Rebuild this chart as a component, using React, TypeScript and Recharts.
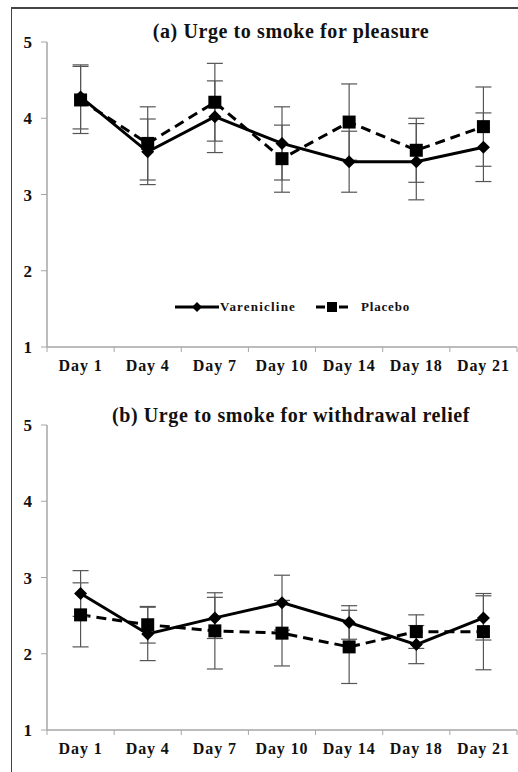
import React from "react";
import { LineChart, Line, XAxis, YAxis, ErrorBar } from "recharts";

const days = ["Day 1", "Day 4", "Day 7", "Day 10", "Day 14", "Day 18", "Day 21"];
const yTicks = [1, 2, 3, 4, 5];

const vareA = [4.28, 3.56, 4.02, 3.67, 3.43, 3.43, 3.62];
const vareAErr = [0.42, 0.43, 0.47, 0.48, 0.4, 0.5, 0.45];
const placA = [4.24, 3.67, 4.21, 3.47, 3.95, 3.58, 3.89];
const placAErr = [0.44, 0.48, 0.51, 0.44, 0.5, 0.42, 0.52];

const vareB = [2.79, 2.26, 2.47, 2.67, 2.41, 2.12, 2.47];
const vareBErr = [0.3, 0.35, 0.27, 0.36, 0.22, 0.25, 0.29];
const placB = [2.51, 2.38, 2.3, 2.27, 2.09, 2.29, 2.29];
const placBErr = [0.42, 0.24, 0.5, 0.43, 0.48, 0.22, 0.5];

const titleA = "(a) Urge to smoke for pleasure";
const titleB = "(b) Urge to smoke for withdrawal relief";
const legendNames = ["Varenicline", "Placebo"];

const FONT = "'Liberation Serif', 'Times New Roman', serif";
const AXIS = "#a6a6a6";
const ERR = "#555555";

function buildRows(v: number[], ve: number[], p: number[], pe: number[]) {
  return days.map((d, i) => ({ x: i + 0.5, day: d, v: v[i], ve: ve[i], p: p[i], pe: pe[i] }));
}

const xTicks: number[] = [];
for (let i = 0; i <= days.length * 2; i++) xTicks.push(i / 2);

const XTick = (props: any) => {
  const { x, y, payload } = props;
  const val = payload.value as number;
  if (Number.isInteger(val)) {
    return <line x1={x} x2={x} y1={y - 8} y2={y - 3} stroke={AXIS} strokeWidth={1} />;
  }
  const label = days[Math.floor(val)];
  return (
    <text x={x} y={y + 16} textAnchor="middle" fontFamily={FONT} fontWeight="bold" fontSize={16} letterSpacing={0.9} fill="#111">
      {label}
    </text>
  );
};

const Diamond = (props: any) => {
  const { cx, cy } = props;
  if (cx == null || cy == null) return null;
  const r = 6.5;
  return <path d={`M${cx},${cy - r}L${cx + r},${cy}L${cx},${cy + r}L${cx - r},${cy}Z`} fill="#000" />;
};

const Square = (props: any) => {
  const { cx, cy } = props;
  if (cx == null || cy == null) return null;
  const s = 6.5;
  return <rect x={cx - s} y={cy - s} width={s * 2} height={s * 2} fill="#000" />;
};

const LegendBox = () => (
  <div style={{ position: "absolute", left: 175, top: 299, display: "flex", alignItems: "center", fontFamily: FONT, fontWeight: "bold", fontSize: 13, color: "#111", whiteSpace: "nowrap" }}>
    <svg width={44} height={14}>
      <line x1={0} x2={44} y1={7} y2={7} stroke="#000" strokeWidth={3} />
      <path d="M22,2L27,7L22,12L17,7Z" fill="#000" />
    </svg>
    <span style={{ letterSpacing: 1.2, marginLeft: 1 }}>{legendNames[0]}</span>
    <svg width={32} height={14} style={{ marginLeft: 20 }}>
      <line x1={0} x2={9} y1={7} y2={7} stroke="#000" strokeWidth={3} />
      <line x1={23} x2={32} y1={7} y2={7} stroke="#000" strokeWidth={3} />
      <rect x={11} y={2} width={10} height={10} fill="#000" />
    </svg>
    <span style={{ letterSpacing: 0.8, marginLeft: 13 }}>{legendNames[1]}</span>
  </div>
);

function Panel(props: { rows: any[]; top: number; height: number }) {
  const { rows, top, height } = props;
  return (
    <LineChart
      width={518}
      height={height}
      data={rows}
      margin={{ top, right: 1, bottom: height - top - 305 - 33, left: 0 }}
    >
      <XAxis
        type="number"
        dataKey="x"
        domain={[0, days.length]}
        ticks={xTicks}
        interval={0}
        tick={<XTick />}
        tickLine={false}
        axisLine={{ stroke: AXIS, strokeWidth: 1.5 }}
        height={33}
        allowDecimals
      />
      <YAxis
        type="number"
        domain={[1, 5]}
        ticks={yTicks}
        width={47}
        tickSize={6}
        tickMargin={9}
        axisLine={{ stroke: AXIS, strokeWidth: 1.5 }}
        tickLine={{ stroke: AXIS }}
        tick={{ fontFamily: FONT, fontWeight: "bold", fontSize: 17, fill: "#111" }}
      />
      <Line
        dataKey="p"
        stroke="#000"
        strokeWidth={3}
        strokeDasharray="10 6"
        dot={<Square />}
        activeDot={false}
        isAnimationActive={false}
      >
        <ErrorBar dataKey="pe" width={8} stroke={ERR} strokeWidth={1.2} direction="y" />
      </Line>
      <Line
        dataKey="v"
        stroke="#000"
        strokeWidth={3}
        dot={<Diamond />}
        activeDot={false}
        isAnimationActive={false}
      >
        <ErrorBar dataKey="ve" width={8} stroke={ERR} strokeWidth={1.2} direction="y" />
      </Line>
    </LineChart>
  );
}

export default function App() {
  const rowsA = buildRows(vareA, vareAErr, placA, placAErr);
  const rowsB = buildRows(vareB, vareBErr, placB, placBErr);
  const titleStyle: React.CSSProperties = {
    position: "absolute",
    left: 47,
    width: 488,
    textAlign: "center",
    fontFamily: FONT,
    fontWeight: "bold",
    fontSize: 20,
    letterSpacing: 0.6,
    color: "#111",
    whiteSpace: "nowrap",
  };
  return (
    <div style={{ position: "absolute", left: 0, top: 0, width: 518, height: 772, background: "#fff", overflow: "hidden" }}>
      <div style={{ position: "absolute", left: 11, top: 7, width: 507, height: 0, borderTop: "2px solid #444" }} />
      <div style={{ position: "absolute", left: 11, top: 7, width: 0, height: 765, borderLeft: "1.5px solid #444" }} />
      <div style={{ position: "absolute", left: 0, top: 0 }}>
        <Panel rows={rowsA} top={42} height={380} />
      </div>
      <div style={{ position: "absolute", left: 0, top: 380 }}>
        <Panel rows={rowsB} top={45} height={392} />
      </div>
      <LegendBox />
      <div style={{ ...titleStyle, top: 20 }}>{titleA}</div>
      <div style={{ ...titleStyle, top: 404 }}>{titleB}</div>
    </div>
  );
}
